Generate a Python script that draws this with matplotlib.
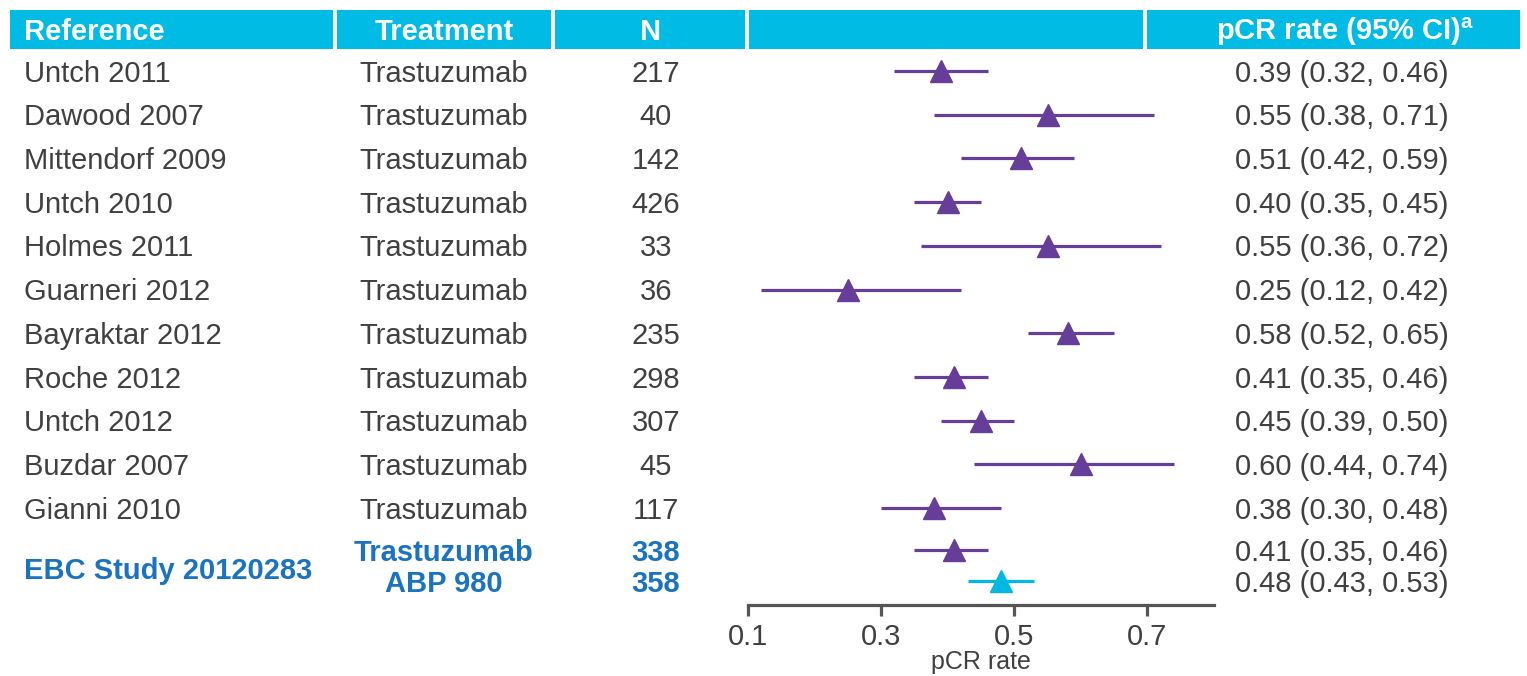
import matplotlib
matplotlib.use('Agg')
import matplotlib.pyplot as plt
from matplotlib.patches import Rectangle
from matplotlib.transforms import blended_transform_factory

plt.rcParams['font.family'] = ['Liberation Sans', 'DejaVu Sans']
plt.rcParams['mathtext.fontset'] = 'custom'
plt.rcParams['mathtext.bf'] = 'Liberation Sans:bold'

# data
references = ['Untch 2011', 'Dawood 2007', 'Mittendorf 2009', 'Untch 2010', 'Holmes 2011',
              'Guarneri 2012', 'Bayraktar 2012', 'Roche 2012', 'Untch 2012', 'Buzdar 2007',
              'Gianni 2010']
treatments = ['Trastuzumab'] * 11
n_values = [217, 40, 142, 426, 33, 36, 235, 298, 307, 45, 117]
pcr = [0.39, 0.55, 0.51, 0.40, 0.55, 0.25, 0.58, 0.41, 0.45, 0.60, 0.38]
ci_low = [0.32, 0.38, 0.42, 0.35, 0.36, 0.12, 0.52, 0.35, 0.39, 0.44, 0.30]
ci_high = [0.46, 0.71, 0.59, 0.45, 0.72, 0.42, 0.65, 0.46, 0.50, 0.74, 0.48]

study_name = 'EBC Study 20120283'
study_arms = ['Trastuzumab', 'ABP 980']
study_n = [338, 358]
study_pcr = [0.41, 0.48]
study_low = [0.35, 0.43]
study_high = [0.46, 0.53]

headers = ['Reference', 'Treatment', 'N', '', r'pCR rate (95% CI)$^{\mathbf{a}}$']
xticks = [0.1, 0.3, 0.5, 0.7]

TEXT = '#404040'
PURPLE = '#663d98'
CYAN = '#00b8e2'
HEAD = '#00bbe3'
BLUE = '#1a73c0'
W, H = 1527, 676
FS = 21

fig = plt.figure(figsize=(W / 100, H / 100), dpi=100)

def fx(px):
    return px / W

def fy(py):
    return 1 - py / H

# forest axes: rows at y-pixels 71 + 43.7 * r
row_px = 43.7
ax_bottom, ax_top = 605, 49
ax = fig.add_axes([fx(748), fy(ax_bottom), fx(1214) - fx(748), fy(ax_top) - fy(ax_bottom)])
ax.set_xlim(0.1, 0.8)
ax.set_ylim((ax_bottom - 71) / row_px, (ax_top - 71) / row_px)
ax.patch.set_alpha(0)

rows = list(range(len(references)))
study_rows = [(550 - 71) / row_px, (581 - 71) / row_px]
dy = 0.06  # small downward nudge for the text rows

ax.hlines(rows, ci_low, ci_high, color=PURPLE, lw=2.3)
ax.plot(pcr, rows, '^', color=PURPLE, ms=16, mec=PURPLE)
for r, p, lo, hi, c in zip(study_rows, study_pcr, study_low, study_high, [PURPLE, CYAN]):
    ax.hlines(r, lo, hi, color=c, lw=2.3)
    ax.plot(p, r, '^', color=c, ms=16, mec=c)

for s in ['top', 'right', 'left']:
    ax.spines[s].set_visible(False)
ax.spines['bottom'].set_color('#555555')
ax.spines['bottom'].set_linewidth(2.3)
ax.set_yticks([])
ax.set_xticks(xticks)
ax.set_xticklabels(['%.1f' % t for t in xticks])
ax.tick_params(axis='x', direction='out', length=8, width=2.3, color='#555555',
               labelsize=FS, labelcolor=TEXT, pad=5)
ax.set_xlabel('pCR rate', fontsize=FS - 3, color=TEXT, va='bottom')
ax.xaxis.set_label_coords(0.5, -(674 - ax_bottom) / (ax_bottom - ax_top))

# table text
tr = blended_transform_factory(fig.transFigure, ax.transData)
for r, ref, trt, n, p, lo, hi in zip(rows, references, treatments, n_values, pcr, ci_low, ci_high):
    ax.text(fx(24), r + dy, ref, transform=tr, ha='left', va='center', fontsize=FS, color=TEXT)
    ax.text(fx(444), r + dy, trt, transform=tr, ha='center', va='center', fontsize=FS, color=TEXT)
    ax.text(fx(656), r + dy, str(n), transform=tr, ha='center', va='center', fontsize=FS, color=TEXT)
    ax.text(fx(1342), r + dy, '%.2f (%.2f, %.2f)' % (p, lo, hi), transform=tr,
            ha='center', va='center', fontsize=FS, color=TEXT)

ax.text(fx(24), sum(study_rows) / 2 + 0.12, study_name, transform=tr, ha='left', va='center',
        fontsize=FS, color=BLUE, fontweight='bold')
for r, arm, n, p, lo, hi in zip(study_rows, study_arms, study_n, study_pcr, study_low, study_high):
    ax.text(fx(444), r + dy, arm, transform=tr, ha='center', va='center', fontsize=FS,
            color=BLUE, fontweight='bold')
    ax.text(fx(656), r + dy, str(n), transform=tr, ha='center', va='center', fontsize=FS,
            color=BLUE, fontweight='bold')
    ax.text(fx(1342), r + dy, '%.2f (%.2f, %.2f)' % (p, lo, hi), transform=tr,
            ha='center', va='center', fontsize=FS, color=TEXT)

# header bar
cells = [(10, 333), (337, 551), (555, 745), (749, 1143), (1147, 1520)]
text_x = [(24, 'left'), (444, 'center'), (651, 'center'), (946, 'center'), (1345, 'center')]
for (x0, x1), (tx, ha), label in zip(cells, text_x, headers):
    fig.patches.append(Rectangle((fx(x0), fy(49)), fx(x1) - fx(x0), fy(10) - fy(49),
                                 transform=fig.transFigure, facecolor=HEAD, edgecolor='none'))
    fig.text(fx(tx), fy(31.5), label, ha=ha, va='center', fontsize=FS, color='white',
             fontweight='bold')

fig.savefig('out.png', dpi=100)
